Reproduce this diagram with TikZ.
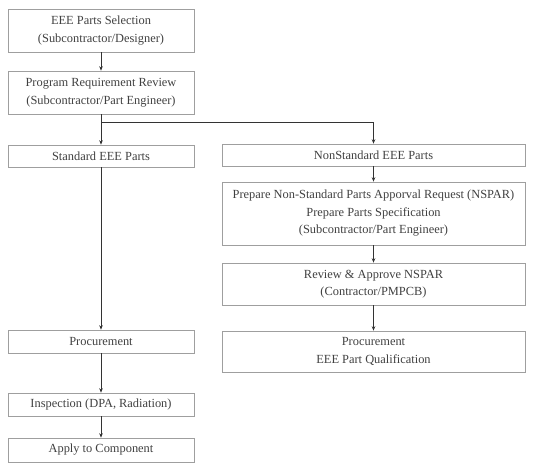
\documentclass[tikz,border=0pt]{standalone}
\usepackage{fontspec}
\setmainfont{Liberation Serif}
\usetikzlibrary{arrows.meta}

\begin{document}
\begin{tikzpicture}[x=1pt,y=-1pt,
	box/.style={draw=gray!75,line width=0.6pt,minimum width=186pt,align=center,inner sep=0pt,text=black!75,font=\fontsize{12.4}{17.5}\selectfont},
	wbox/.style={box,minimum width=303pt},
	flow/.style={-{Stealth[length=4.5pt,width=3.5pt]},black!80,line width=0.6pt}]
	\useasboundingbox (0,0) rectangle (537,473);
	% left column
	\node (sel) [box,minimum height=43pt] at (101,30.5) {EEE Parts Selection\\(Subcontractor/Designer)};
	\node (req) [box,minimum height=43pt] at (101,92.5) {Program Requirement Review\\(Subcontractor/Part Engineer)};
	\node (std) [box,minimum height=22pt] at (101,156) {Standard EEE Parts};
	\node (proc) [box,minimum height=23pt] at (101,341.5) {Procurement};
	\node (insp) [box,minimum height=23pt] at (101,404.5) {Inspection (DPA, Radiation)};
	\node (apply) [box,minimum height=24pt] at (101,450) {Apply to Component};
	% right column
	\node (nstd) [wbox,minimum height=22pt] at (373.5,155) {NonStandard EEE Parts};
	\node (nspar) [wbox,minimum height=63pt] at (373.5,213.5) {Prepare Non-Standard Parts Apporval Request (NSPAR)\\Prepare Parts Specification\\(Subcontractor/Part Engineer)};
	\node (rev) [wbox,minimum height=42pt] at (373.5,284) {Review \& Approve NSPAR\\(Contractor/PMPCB)};
	\node (qual) [wbox,minimum height=41pt] at (373.5,351.5) {Procurement\\EEE Part Qualification};
	\coordinate (split) at (101,122);
	\draw[flow] (sel) -- (req);
	\draw[flow] (req) -- (std);
	\draw[flow] (split) -| (nstd.north);
	\draw[flow] (std) -- (proc);
	\draw[flow] (proc) -- (insp);
	\draw[flow] (insp) -- (apply);
	\draw[flow] (nstd) -- (nspar);
	\draw[flow] (nspar) -- (rev);
	\draw[flow] (rev) -- (qual);
\end{tikzpicture}
\end{document}
